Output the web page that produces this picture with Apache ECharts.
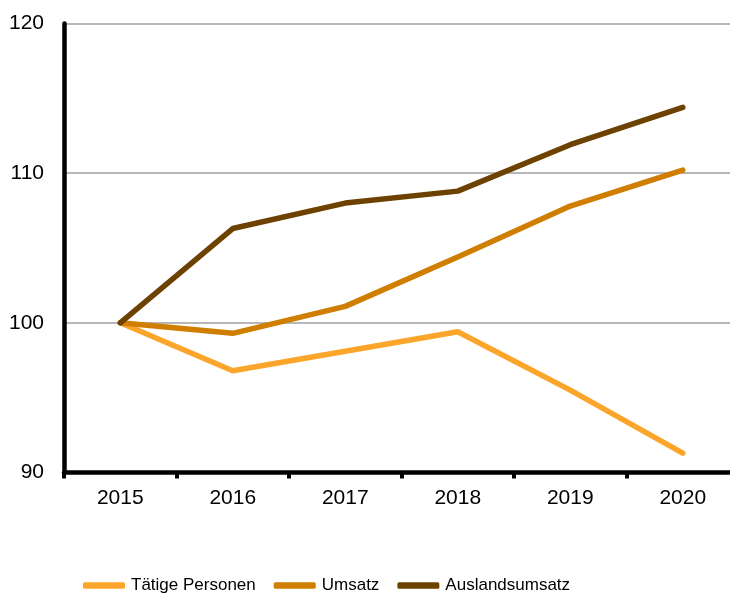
<!DOCTYPE html>
<html>
<head>
<meta charset="utf-8">
<script src="https://cdn.jsdelivr.net/npm/echarts@6/dist/echarts.min.js"></script>
<style>html,body{margin:0;padding:0;background:#fff}#c{width:730px;height:599px}</style>
</head>
<body>
<div id="c"></div>
<script>
const years = ['2015', '2016', '2017', '2018', '2019', '2020'];
const taetigePersonen = [100, 96.8, 98.1, 99.4, 95.5, 91.3];
const umsatz = [100, 99.3, 101.1, 104.4, 107.8, 110.2];
const auslandsumsatz = [100, 106.3, 108.0, 108.8, 111.9, 114.4];
const seriesNames = ['Tätige Personen', 'Umsatz', 'Auslandsumsatz'];
const colors = ['#FBA62A', '#D07E00', '#6D4200'];

const chart = echarts.init(document.getElementById('c'), null, {renderer: 'canvas'});
const mk = (name, data, color) => ({
  name, type: 'line', data, symbol: 'none', smooth: false,
  itemStyle: {color},
  lineStyle: {color, width: 5.5, cap: 'round', join: 'round'}
});
chart.setOption({
  animation: false,
  backgroundColor: '#fff',
  color: colors,
  grid: {left: 64, right: -9, top: 23.5, bottom: 126.5, outerBoundsMode: 'none'},
  legend: {
    left: 83, top: 577, padding: 0,
    itemWidth: 42, itemHeight: 6.5, itemGap: 18,
    icon: 'roundRect',
    textStyle: {fontFamily: '"Liberation Sans", Arial, sans-serif', fontSize: 17, color: '#000', padding: [0, 0, 0, 1]},
    data: seriesNames
  },
  xAxis: {
    type: 'category', data: years, boundaryGap: true,
    axisLine: {onZero: false, lineStyle: {color: '#000', width: 4.5}},
    axisTick: {show: true, length: 6, lineStyle: {color: '#000', width: 4}},
    axisLabel: {fontFamily: '"Liberation Sans", Arial, sans-serif', fontSize: 21, color: '#000', margin: 15},
    splitLine: {show: false}
  },
  yAxis: {
    type: 'value', min: 90, max: 120, interval: 10,
    axisLine: {show: true, lineStyle: {color: '#000', width: 4.5}},
    axisTick: {show: false},
    axisLabel: {fontFamily: '"Liberation Sans", Arial, sans-serif', fontSize: 21, color: '#000', margin: 20},
    splitLine: {show: true, lineStyle: {color: '#A0A0A0', width: 1.5}}
  },
  series: [
    mk(seriesNames[0], taetigePersonen, colors[0]),
    mk(seriesNames[1], umsatz, colors[1]),
    mk(seriesNames[2], auslandsumsatz, colors[2])
  ]
});
</script>
</body>
</html>
